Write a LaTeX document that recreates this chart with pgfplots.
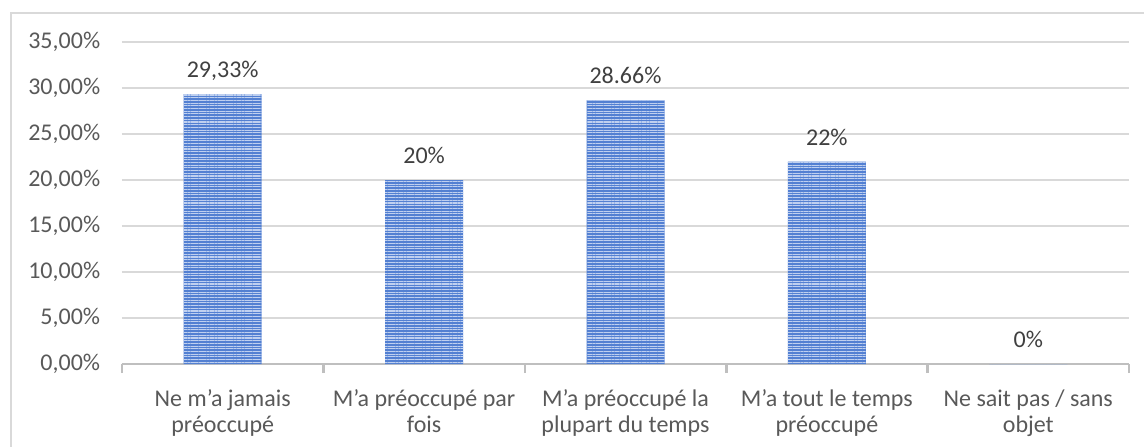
\documentclass[border=0pt]{standalone}
\usepackage{fontspec}
\setmainfont{Carlito}
\usepackage{pgfplots}
\pgfplotsset{compat=1.18}
\usetikzlibrary{patterns.meta}
\definecolor{gridc}{HTML}{D9D9D9}
\definecolor{axisc}{HTML}{BFBFBF}
\definecolor{tickc}{HTML}{595959}
\definecolor{labc}{HTML}{404040}
\definecolor{barc}{HTML}{5380D2}
\definecolor{stripec}{HTML}{BFD0F0}
\begin{document}
\begin{tikzpicture}
\path[use as bounding box] (-61pt,-41pt) rectangle (511pt,182pt);
\draw[color=gridc, line width=0.75pt] (-55.5pt,-45pt) -- (-55.5pt,175.5pt) -- (515pt,175.5pt);
\begin{axis}[
  at={(0pt,0pt)}, anchor=south west,
  scale only axis, width=503.5pt, height=161pt,
  font=\fontsize{12}{13}\selectfont,
  xmin=0.5, xmax=5.5, ymin=0, ymax=35,
  enlargelimits=false,
  axis x line*=bottom, axis y line*=left,
  x axis line style={draw=axisc, line width=1.3pt},
  y axis line style={draw=none},
  xtick={1,2,3,4,5},
  xticklabels={{Ne m’a jamais\\préoccupé},{M’a préoccupé par\\fois},{M’a préoccupé la\\plupart du temps},{M’a tout le temps\\préoccupé},{Ne sait pas / sans\\objet}},
  xticklabel style={align=center, text=tickc, yshift=-5pt, font=\fontsize{12}{13}\selectfont},
  major x tick style={draw=none},
  minor xtick={0.5,1.5,2.5,3.5,4.5,5.5},
  minor tick length=4.5pt,
  minor x tick style={draw=axisc, line width=1.3pt},
  xtick align=outside,
  ytick={0,5,10,15,20,25,30,35},
  major y tick style={draw=none},
  yticklabel={\pgfmathprintnumber[fixed,fixed zerofill,precision=2,use comma]{\tick}\%},
  /pgf/number format/assume math mode=true,
  yticklabel style={text=tickc, xshift=-7.4pt},
  ymajorgrids,
  grid style={draw=gridc, line width=0.8pt},
  ybar, bar width=39pt,
  nodes near coords,
  point meta=explicit symbolic,
  nodes near coords style={anchor=south, inner sep=0pt, yshift=8pt, text=labc, text depth=0pt},
]
\addplot[fill=barc, draw=none,
  postaction={pattern={Lines[angle=0,distance=1.35pt,line width=0.55pt]}, pattern color=stripec}]
  coordinates {(1,29.33) [29,33\%] (2,20) [20\%] (3,28.66) [28.66\%] (4,22) [22\%] (5,0) [0\%]};
\end{axis}
\end{tikzpicture}
\end{document}
